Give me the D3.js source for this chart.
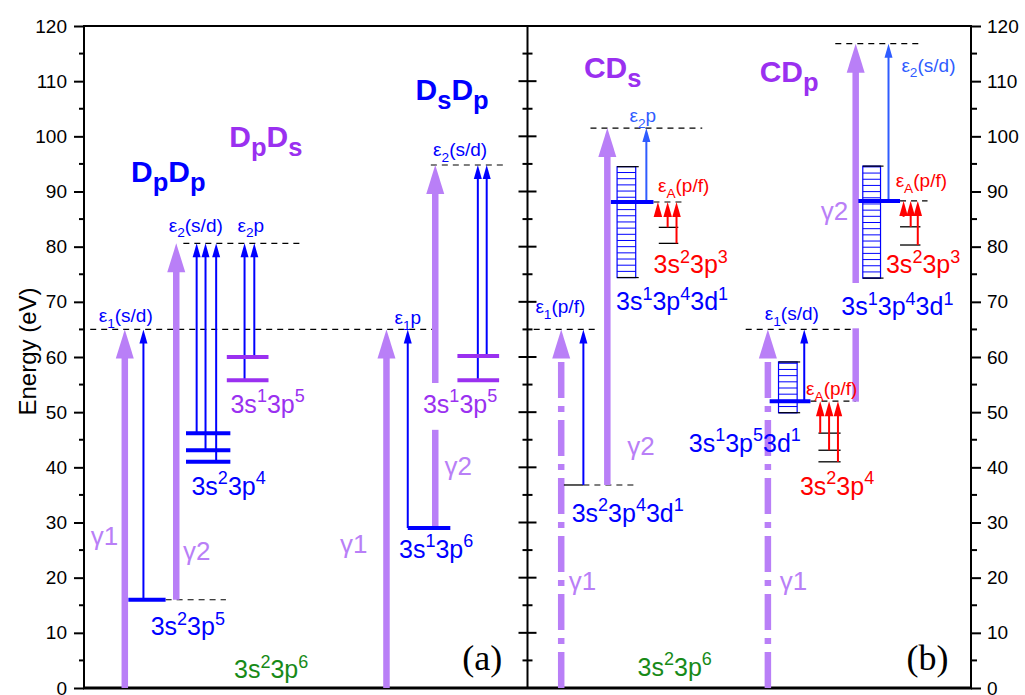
<!DOCTYPE html>
<html>
<head>
<meta charset="utf-8">
<script src="https://cdn.jsdelivr.net/npm/d3@7"></script>
<style>
  body { margin: 0; background: #fff; }
  svg { font-family: "Liberation Sans", Arial, sans-serif; }
</style>
</head>
<body>
<div class="displayArea"></div>
<script>
const width = 1025, height = 695;

// energy axis ticks (eV)
var yTicks = [0, 10, 20, 30, 40, 50, 60, 70, 80, 90, 100, 110, 120];
var yMinor = [5, 15, 25, 35, 45, 55, 65, 75, 85, 95, 105, 115];

// photon arrows: [x slot, from eV, to eV, style]
var gammaArrows = [
  [4.1, 0, 65, "solid"],
  [9.9, 16, 80.6, "solid"],
  [33.6, 0, 65, "solid"],
  [39.1, 55.3, 94.8, "solid"],
  [53.3, 0, 65, "dashdot"],
  [58.5, 36.8, 101.5, "solid"],
  [76.6, 0, 65, "dashdot"],
  [86.5, 73.4, 116.8, "solid"]
];
// photon shafts broken by a label: [x slot, from eV, to eV]
var gammaStubs = [[39.1, 29, 46.8], [86.5, 51.9, 65.2]];

// electron arrows: [x slot, from eV, to eV, colour]
var electronArrows = [
  [6.2, 16, 65, "blue"],
  [12.2, 46.2, 80.6, "blue"],
  [13.2, 43.1, 80.6, "blue"],
  [14.4, 41.0, 80.6, "blue"],
  [17.6, 55.8, 80.6, "blue"],
  [18.7, 60.0, 80.6, "blue"],
  [36.0, 29.0, 65, "blue"],
  [43.9, 55.8, 94.8, "blue"],
  [44.9, 60.2, 94.8, "blue"],
  [55.8, 36.8, 65, "blue"],
  [62.9, 88.1, 101.5, "light"],
  [80.7, 52.0, 65, "blue"],
  [90.2, 88.3, 116.8, "light"]
];

// Auger electrons: [x slot, from eV, to eV]
var augerArrows = [
  [64.2, 85.4, 88.1], [65.3, 83.5, 88.1], [66.3, 80.6, 88.1],
  [82.5, 46.2, 52.0], [83.5, 43.1, 52.0], [84.5, 41.0, 52.0],
  [91.9, 85.4, 88.3], [92.7, 83.6, 88.3], [93.5, 80.3, 88.3]
];

// thick ionic levels: [x0, x1, eV, colour]
var levels = [
  [4.5, 8.7, 16.0, "blue"],
  [11.0, 16.0, 46.2, "blue"],
  [11.0, 16.0, 43.1, "blue"],
  [11.0, 16.0, 41.0, "blue"],
  [15.6, 20.3, 60.0, "purple"],
  [15.6, 20.3, 55.8, "purple"],
  [36.0, 40.8, 29.0, "blue"],
  [41.6, 46.3, 60.2, "purple"],
  [41.6, 46.3, 55.8, "purple"],
  [58.9, 63.7, 88.1, "blue"],
  [76.8, 81.4, 52.0, "blue"],
  [86.8, 91.5, 88.3, "blue"]
];

// thin final-state levels: [x0, x1, eV]
var thinLevels = [
  [53.6, 55.8, 36.8],
  [64.3, 66.5, 83.5], [64.3, 66.5, 80.6],
  [82.3, 84.8, 46.2], [82.3, 84.8, 43.1], [82.3, 84.8, 41.0],
  [91.5, 93.8, 83.6], [91.5, 93.8, 80.3]
];

// dashed threshold lines: [x0, x1, eV]
var dashes = [
  [0.2, 38.9, 65], [8.7, 15.5, 16], [10.7, 23.9, 80.6], [38.6, 46.8, 94.8],
  [50.2, 57.2, 65], [55.8, 62.0, 36.8], [56.6, 69.2, 101.5], [63.7, 67.1, 88.1],
  [74.1, 86.5, 65], [81.4, 86.5, 52.0], [84.2, 94.1, 116.8], [91.5, 94.6, 88.3]
];

// band of multiplet states: [x0, x1, eV low, eV high]
var bands = [
  [59.6, 61.7, 74.4, 94.5],
  [77.8, 79.9, 49.9, 59.1],
  [87.3, 89.3, 74.3, 94.6]
];

// labels: [text, x slot, eV, colour, kind]
var labels = [
  ["ε_{1}(s/d)", 4.2, 66.3, "blue", "eps"],
  ["ε_{2}(s/d)", 12.1, 82.7, "blue", "eps"],
  ["ε_{2}p", 18.3, 82.7, "blue", "eps"],
  ["D_{p}D_{p}", 9.0, 91.7, "blue", "title"],
  ["D_{p}D_{s}", 20.0, 98.1, "purple", "title"],
  ["γ1", 1.8, 25.9, "gamma", "gamma"],
  ["γ2", 12.2, 23.2, "gamma", "gamma"],
  ["3s^{2}3p^{5}", 11.2, 9.6, "blue", "conf"],
  ["3s^{2}3p^{4}", 15.8, 35.0, "blue", "conf"],
  ["3s^{1}3p^{5}", 20.2, 49.9, "purple", "conf"],
  ["3s^{2}3p^{6}", 20.6, 1.8, "green", "conf"],
  ["ε_{1}p", 36.0, 66.0, "blue", "eps"],
  ["3s^{1}3p^{5}", 41.9, 49.9, "purple", "conf"],
  ["γ2", 41.7, 38.6, "gamma", "gamma"],
  ["γ1", 29.9, 24.5, "gamma", "gamma"],
  ["3s^{1}3p^{6}", 39.2, 23.6, "blue", "conf"],
  ["D_{s}D_{p}", 41.0, 106.6, "blue", "title"],
  ["ε_{2}(s/d)", 41.9, 96.4, "blue", "eps"],
  ["CD_{s}", 59.1, 110.6, "purple", "title"],
  ["ε_{2}p", 62.5, 102.6, "light", "eps"],
  ["ε_{A}(p/f)", 67.1, 89.9, "red", "eps"],
  ["3s^{2}3p^{3}", 67.9, 75.2, "red", "conf"],
  ["3s^{1}3p^{4}3d^{1}", 65.8, 68.5, "blue", "conf"],
  ["ε_{1}(p/f)", 53.2, 68.0, "blue", "eps"],
  ["γ2", 62.3, 42.2, "gamma", "gamma"],
  ["3s^{2}3p^{4}3d^{1}", 60.8, 30.1, "blue", "conf"],
  ["γ1", 55.7, 17.8, "gamma", "gamma"],
  ["3s^{2}3p^{6}", 66.1, 2.2, "green", "conf"],
  ["3s^{1}3p^{5}3d^{1}", 74.0, 42.8, "blue", "conf"],
  ["CD_{p}", 79.0, 109.8, "purple", "title"],
  ["ε_{2}(s/d)", 94.7, 111.7, "light", "eps"],
  ["ε_{A}(p/f)", 93.9, 90.8, "red", "eps"],
  ["γ2", 84.1, 84.8, "gamma", "gamma"],
  ["3s^{2}3p^{3}", 94.1, 75.2, "red", "conf"],
  ["3s^{1}3p^{4}3d^{1}", 91.2, 67.6, "blue", "conf"],
  ["ε_{1}(s/d)", 79.3, 66.7, "blue", "eps"],
  ["ε_{A}(p/f)", 83.8, 53.1, "red", "eps"],
  ["3s^{2}3p^{4}", 84.4, 35.0, "red", "conf"],
  ["γ1", 79.5, 17.8, "gamma", "gamma"]
];
var panelTags = [["(a)", 44.4, 3.3], ["(b)", 94.6, 3.3]];

var colors = {
  gamma: "#b97ff7", blue: "#0000ff", light: "#2f5cff",
  purple: "#9a30f0", red: "#ff0000", green: "#178a17"
};
// font size, script scale, weight per label kind
var kinds = {
  eps: [19, 0.72, "normal"],
  title: [30, 0.85, "bold"],
  gamma: [26, 0.7, "normal"],
  conf: [25, 0.72, "normal"]
};

var xScale = d3.scaleLinear().domain([-0.5, 99.5]).range([84, 971]);
var yScale = d3.scaleLinear().domain([0, 120]).range([688, 26]);
var xMid = xScale(49.5);

var svg = d3.select(".displayArea")
  .append("svg")
  .attr("width", width)
  .attr("height", height)
  .style("background", "#fff");

// write text with ^{} superscripts and _{} subscripts
function richText(sel, str, fs, sc) {
  var re = /([\^_])\{([^}]*)\}/g, last = 0, m, shift = 0;
  function add(t, size, target) {
    if (!t) return;
    sel.append("tspan").attr("font-size", size).attr("dy", target - shift).text(t);
    shift = target;
  }
  while ((m = re.exec(str)) !== null) {
    add(str.slice(last, m.index), fs, 0);
    if (m[1] === "^") add(m[2], fs * sc, -fs * 0.42);
    else add(m[2], fs * sc, fs * 0.3);
    last = re.lastIndex;
  }
  add(str.slice(last), fs, 0);
}

// y axes: left, right
var leftAxis = d3.axisLeft(yScale).tickValues(yTicks).tickSize(10).tickPadding(7);
var rightAxis = d3.axisRight(yScale).tickValues(yTicks).tickSize(10).tickPadding(6);

function styleAxis(g) {
  g.select(".domain").remove();
  g.selectAll("line").attr("stroke", "#000").attr("stroke-width", 2);
  g.selectAll("text").attr("font-size", 19).attr("fill", "#000")
    .attr("font-family", "Liberation Sans, Arial, sans-serif");
}
svg.append("g").attr("transform", `translate(${xScale(-0.5)},0)`).call(leftAxis).call(styleAxis);
svg.append("g").attr("transform", `translate(${xScale(99.5)},0)`).call(rightAxis).call(styleAxis);

// minor ticks + middle divider ticks
[[xScale(-0.5), -5, 0], [xScale(99.5), 0, 6]].forEach(function (a) {
  svg.append("g").selectAll("line").data(yMinor).enter().append("line")
    .attr("x1", a[0] + a[1]).attr("x2", a[0] + a[2])
    .attr("y1", d => yScale(d)).attr("y2", d => yScale(d))
    .attr("stroke", "#000").attr("stroke-width", 2);
});
svg.append("g").selectAll("line").data(yTicks.concat(yMinor)).enter().append("line")
  .attr("x1", d => xMid - (d % 10 === 0 ? 9 : 5))
  .attr("x2", d => xMid + (d % 10 === 0 ? 9 : 5))
  .attr("y1", d => yScale(d)).attr("y2", d => yScale(d))
  .attr("stroke", "#000").attr("stroke-width", 2);

// frame
svg.append("rect")
  .attr("x", xScale(-0.5)).attr("y", yScale(120))
  .attr("width", xScale(99.5) - xScale(-0.5)).attr("height", yScale(0) - yScale(120))
  .attr("fill", "none").attr("stroke", "#000").attr("stroke-width", 2);
svg.append("line").attr("x1", xMid).attr("x2", xMid)
  .attr("y1", yScale(120)).attr("y2", yScale(0))
  .attr("stroke", "#000").attr("stroke-width", 2);
svg.append("line").attr("x1", xScale(-0.5) - 1).attr("x2", xScale(99.5) + 1)
  .attr("y1", yScale(0)).attr("y2", yScale(0))
  .attr("stroke", "#000").attr("stroke-width", 3);

svg.append("text")
  .attr("transform", `translate(36,${yScale(61)}) rotate(-90)`)
  .attr("text-anchor", "middle")
  .attr("font-size", 24)
  .text("Energy (eV)");

var plot = svg.append("g");

// dashed thresholds
plot.selectAll(".dash").data(dashes).enter().append("line")
  .attr("x1", d => xScale(d[0])).attr("x2", d => xScale(d[1]))
  .attr("y1", d => yScale(d[2])).attr("y2", d => yScale(d[2]))
  .attr("stroke", "#000").attr("stroke-width", 1.2).attr("stroke-dasharray", "6,5");

// bands
bands.forEach(function (b) {
  var g = plot.append("g");
  var lines = d3.range(b[2], b[3], 1.12);
  g.selectAll("line").data(lines).enter().append("line")
    .attr("x1", xScale(b[0])).attr("x2", xScale(b[1]))
    .attr("y1", d => yScale(d)).attr("y2", d => yScale(d))
    .attr("stroke", colors.blue).attr("stroke-width", 1);
  g.append("rect")
    .attr("x", xScale(b[0])).attr("y", yScale(b[3]))
    .attr("width", xScale(b[1]) - xScale(b[0])).attr("height", yScale(b[2]) - yScale(b[3]))
    .attr("fill", "none").attr("stroke", colors.blue).attr("stroke-width", 1.2);
  [b[2], b[3]].forEach(function (e) {
    g.append("line").attr("x1", xScale(b[0])).attr("x2", xScale(b[1]) + 3)
      .attr("y1", yScale(e)).attr("y2", yScale(e))
      .attr("stroke", "#000").attr("stroke-width", 1.2);
  });
});

function arrow(x, e0, e1, col, w, hw, hl, dash) {
  var px = xScale(x), yTip = yScale(e1);
  plot.append("line")
    .attr("x1", px).attr("x2", px)
    .attr("y1", yScale(e0)).attr("y2", yTip + hl - 1)
    .attr("stroke", col).attr("stroke-width", w)
    .attr("stroke-dasharray", dash || null);
  plot.append("path")
    .attr("d", `M${px},${yTip}L${px - hw / 2},${yTip + hl}L${px + hw / 2},${yTip + hl}Z`)
    .attr("fill", col);
}

// photon arrows
gammaStubs.forEach(function (s) {
  plot.append("line").attr("x1", xScale(s[0])).attr("x2", xScale(s[0]))
    .attr("y1", yScale(s[1])).attr("y2", yScale(s[2]))
    .attr("stroke", colors.gamma).attr("stroke-width", 6.5);
});
gammaArrows.forEach(function (a) {
  arrow(a[0], a[1], a[2], colors.gamma, 6.5, 18, 29, a[3] === "dashdot" ? "36,8,6,8" : null);
});

// thin levels
plot.selectAll(".thin").data(thinLevels).enter().append("line")
  .attr("x1", d => xScale(d[0])).attr("x2", d => xScale(d[1]))
  .attr("y1", d => yScale(d[2])).attr("y2", d => yScale(d[2]))
  .attr("stroke", "#000").attr("stroke-width", 1.3);

// electron + Auger arrows
electronArrows.forEach(function (a) {
  arrow(a[0], a[1], a[2], colors[a[3]], 2, 8, 14);
});
augerArrows.forEach(function (a) {
  arrow(a[0], a[1], a[2], colors.red, 2, 8.5, 15);
});

// thick levels
plot.selectAll(".lvl").data(levels).enter().append("line")
  .attr("x1", d => xScale(d[0])).attr("x2", d => xScale(d[1]))
  .attr("y1", d => yScale(d[2])).attr("y2", d => yScale(d[2]))
  .attr("stroke", d => colors[d[3]]).attr("stroke-width", 4);

// labels
labels.forEach(function (l) {
  var k = kinds[l[4]];
  var t = plot.append("text")
    .attr("x", xScale(l[1])).attr("y", yScale(l[2]))
    .attr("text-anchor", "middle")
    .attr("fill", colors[l[3]])
    .attr("font-size", k[0])
    .attr("font-weight", k[2]);
  richText(t, l[0], k[0], k[1]);
});
panelTags.forEach(function (p) {
  plot.append("text")
    .attr("x", xScale(p[1])).attr("y", yScale(p[2]))
    .attr("text-anchor", "middle")
    .attr("font-family", "Liberation Serif, Times New Roman, serif")
    .attr("font-size", 36)
    .text(p[0]);
});
</script>
</body>
</html>
